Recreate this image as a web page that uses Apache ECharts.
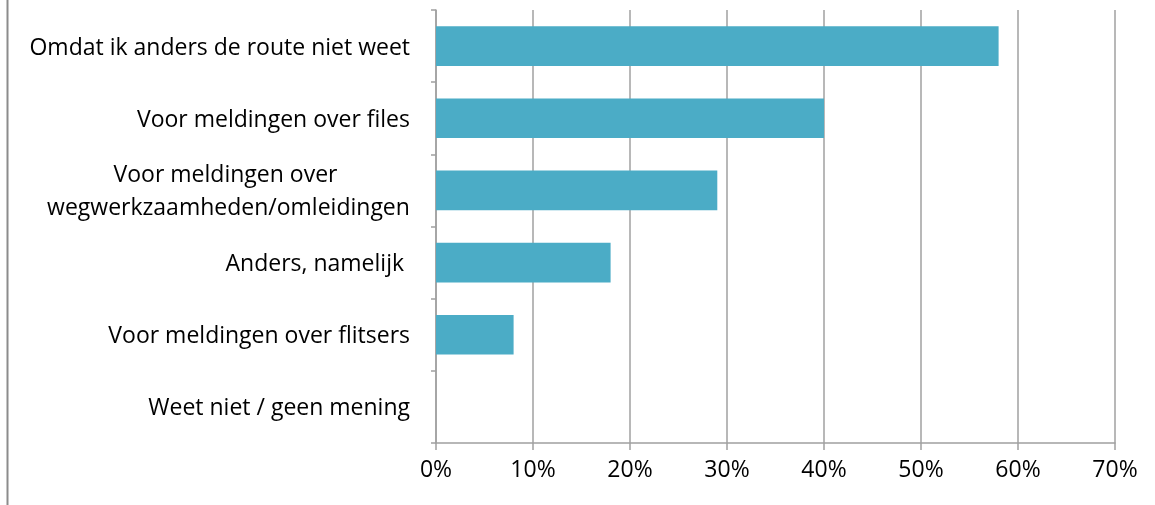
<!DOCTYPE html>
<html>
<head>
<meta charset="utf-8">
<script src="https://cdn.jsdelivr.net/npm/echarts@6/dist/echarts.min.js"></script>
<style>html,body{margin:0;padding:0;background:#fff;}#c{width:1155px;height:505px;}</style>
</head>
<body>
<div id="c"></div>
<script>
const categories = [
  "Omdat ik anders de route niet weet",
  "Voor meldingen over files",
  "Voor meldingen over \nwegwerkzaamheden/omleidingen",
  "Anders, namelijk ",
  "Voor meldingen over flitsers",
  "Weet niet / geen mening"
];
const values = [58, 40, 29, 18, 8, 0];
const xTicks = [0, 10, 20, 30, 40, 50, 60, 70];

const FONT = "Open Sans";
const FS = 23;
const cv = document.createElement('canvas').getContext('2d');
cv.font = FS + 'px "' + FONT + '"';
function textW(s) { return cv.measureText(s).width; }

const chart = echarts.init(document.getElementById('c'));
chart.setOption({
  animation: false,
  backgroundColor: '#fff',
  grid: { left: 436, right: 40, top: 10, bottom: 62, containLabel: false },
  graphic: [{
    type: 'line', shape: { x1: 7.5, y1: 0, x2: 7.5, y2: 505 },
    style: { stroke: '#8c8c8c', lineWidth: 2 }
  }],
  xAxis: {
    type: 'value', min: xTicks[0], max: xTicks[xTicks.length - 1], interval: 10,
    axisLine: { show: true, lineStyle: { color: '#a0a0a0', width: 1.5 } },
    axisTick: { show: true, length: 7, lineStyle: { color: '#a0a0a0', width: 1.5 } },
    splitLine: { show: true, lineStyle: { color: '#a0a0a0', width: 1.5 } },
    axisLabel: { formatter: v => v + '%', color: '#000', fontFamily: FONT, fontSize: FS, margin: 16 }
  },
  yAxis: {
    type: 'category', data: categories, inverse: true,
    axisLine: { show: true, lineStyle: { color: '#a0a0a0', width: 1.5 } },
    axisTick: { show: true, length: 5, inside: false, lineStyle: { color: '#a0a0a0', width: 1.5 } },
    axisLabel: {
      color: '#000', fontFamily: FONT, fontSize: FS, margin: 26, lineHeight: 33,
      padding: [4, 0, 0, 0],
      formatter: function (v) {
        if (v.indexOf('\n') >= 0) {
          return v.split('\n').map(s => '{c|' + s + '}').join('\n');
        }
        return v;
      },
      rich: { c: { width: Math.ceil(textW('wegwerkzaamheden/omleidingen')), align: 'center', fontFamily: FONT, fontSize: FS, color: '#000', lineHeight: 33 } }
    }
  },
  series: [{
    type: 'bar', data: values, barCategoryGap: '45%',
    itemStyle: { color: '#4bacc6' }
  }]
});
</script>
</body>
</html>
